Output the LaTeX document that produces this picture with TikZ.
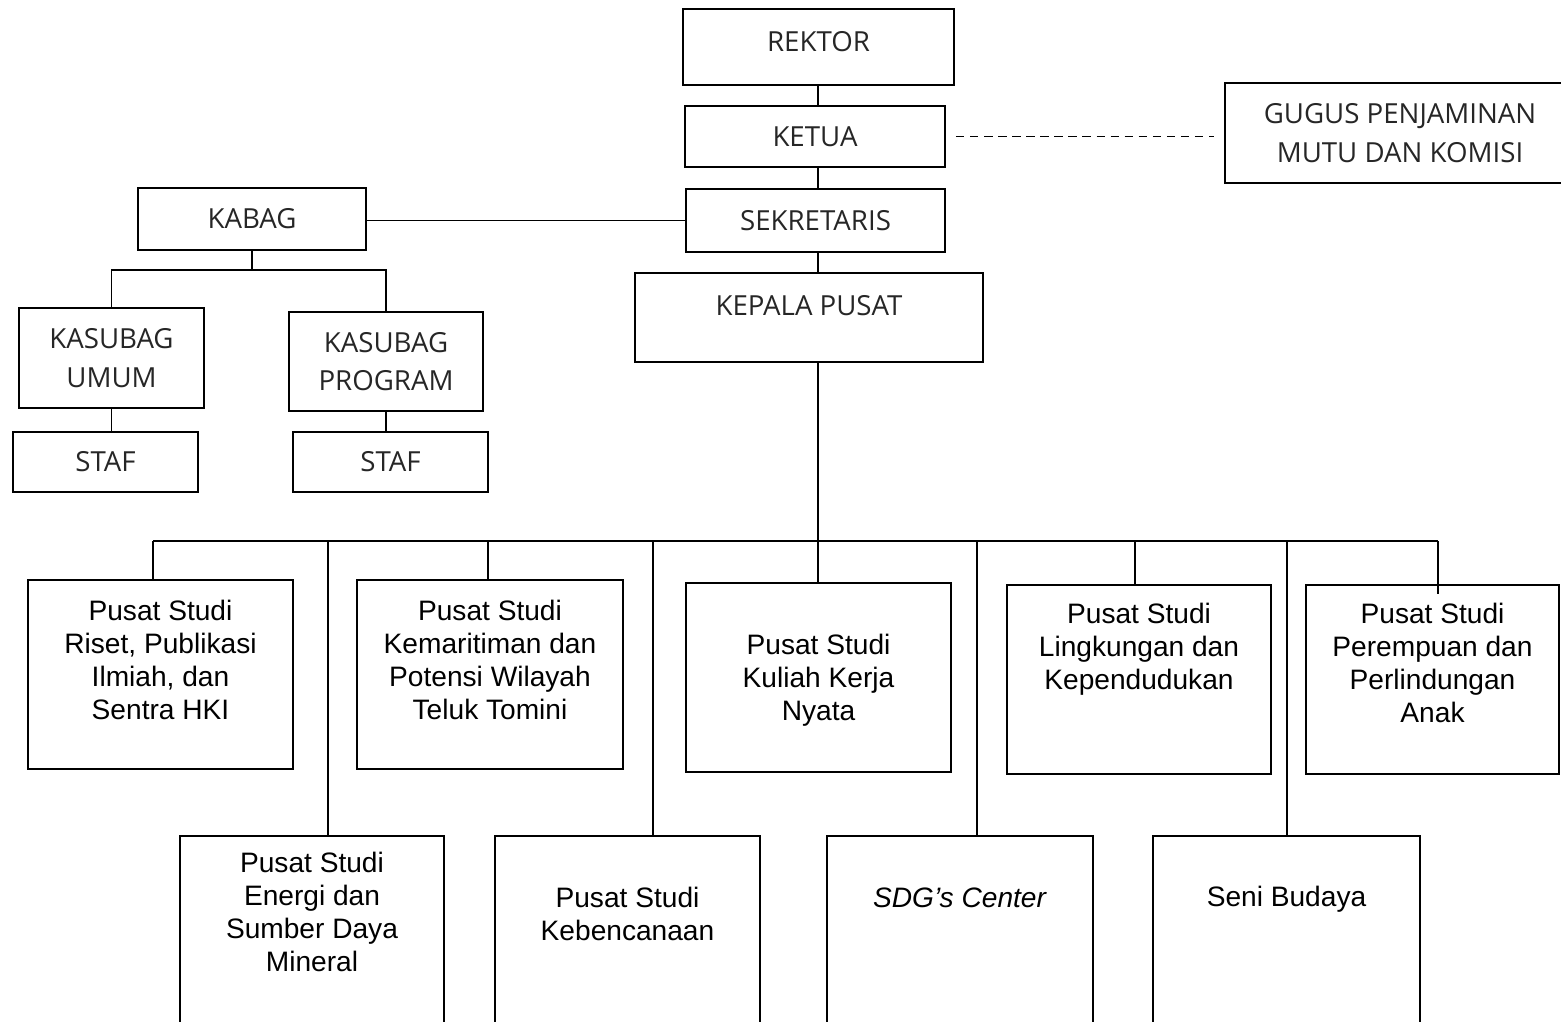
\documentclass[tikz,border=0pt]{standalone}
\usepackage{fontspec}
\setmainfont{Liberation Sans}
\newfontfamily\capsfont{Open Sans}
\usepackage{tikz}
\usetikzlibrary{positioning}

\tikzset{
  unitbox/.style={draw, line width=0.8pt, inner sep=0pt},
  capstext/.style={font=\capsfont\fontsize{11.8}{16.4}\selectfont, text=black!85, align=center, inner sep=0pt},
  pusatbox/.style={unitbox, minimum width=39.75mm, minimum height=28.35mm},
  lowbox/.style={unitbox, minimum width=39.75mm, minimum height=31.35mm},
  pusattext/.style={font=\fontsize{12}{14}\selectfont, align=center, inner sep=0pt},
  link/.style={line width=0.8pt}
}

\begin{document}
\begin{tikzpicture}[x=0.15mm, y=-0.15mm]
  \useasboundingbox (0,0) rectangle (1561,1021);
  \clip (0,0) rectangle (1561,1021);

  % pimpinan
  \node[unitbox, line width=1.2pt, minimum width=40.65mm, minimum height=11.4mm] (rektor) at (818.5,47) {};
  \node[capstext, below=3.45mm of rektor.north] (rektortext) {REKTOR};
  \node[unitbox, capstext, minimum width=39mm, minimum height=9.15mm] (ketua) at (815,136.5) {KETUA};
  \node[unitbox, capstext, minimum width=38.85mm, minimum height=9.45mm] (sekretaris) at (815.5,220.5) {SEKRETARIS};
  \node[unitbox, capstext, minimum width=52.5mm, minimum height=15mm] (gugus) at (1400,133) {GUGUS PENJAMINAN\\MUTU DAN KOMISI};
  \node[unitbox, minimum width=52.2mm, minimum height=13.35mm] (kepala) at (809,317.5) {};
  \node[capstext, below=3.45mm of kepala.north] (kepalatext) {KEPALA PUSAT};

  % bagian
  \node[unitbox, capstext, minimum width=34.2mm, minimum height=9.3mm] (kabag) at (252,219) {KABAG};
  \node[unitbox, capstext, minimum width=27.75mm, minimum height=15mm] (umum) at (111.5,358) {KASUBAG\\UMUM};
  \node[unitbox, capstext, minimum width=29.1mm, minimum height=14.85mm] (program) at (386,361.5) {KASUBAG\\PROGRAM};
  \node[unitbox, capstext, minimum width=27.75mm, minimum height=9mm] (stafumum) at (105.5,462) {STAF};
  \node[unitbox, capstext, minimum width=29.25mm, minimum height=9mm] (stafprogram) at (390.5,462) {STAF};

  % pusat studi, baris atas
  \node[pusatbox] (riset) at (160.5,674.5) {};
  \node[pusattext, below=3.15mm of riset.north] (risettext) {Pusat Studi\\Riset, Publikasi\\Ilmiah, dan\\Sentra HKI};
  \node[pusatbox, minimum width=39.9mm] (maritim) at (490,674.5) {};
  \node[pusattext, below=3.15mm of maritim.north] (maritimtext) {Pusat Studi\\Kemaritiman dan\\Potensi Wilayah\\Teluk Tomini};
  \node[pusatbox] (kkn) at (818.5,677.5) {};
  \node[pusattext, below=7.8mm of kkn.north] (kkntext) {Pusat Studi\\Kuliah Kerja\\Nyata};
  \node[pusatbox, minimum width=39.6mm] (lingkungan) at (1139,679.5) {};
  \node[pusattext, below=2.85mm of lingkungan.north] (lingkungantext) {Pusat Studi\\Lingkungan dan\\Kependudukan};
  \node[pusatbox, minimum width=37.95mm] (perempuan) at (1432.5,679.5) {};
  \node[pusattext, below=2.85mm of perempuan.north] (perempuantext) {Pusat Studi\\Perempuan dan\\Perlindungan\\Anak};

  % pusat studi, baris bawah
  \node[lowbox, minimum width=39.6mm] (energi) at (312,940.5) {};
  \node[pusattext, below=2.55mm of energi.north] (energitext) {Pusat Studi\\Energi dan\\Sumber Daya\\Mineral};
  \node[lowbox] (bencana) at (627.5,940.5) {};
  \node[pusattext, below=7.8mm of bencana.north] (bencanatext) {Pusat Studi\\Kebencanaan};
  \node[lowbox, minimum width=39.9mm] (sdg) at (960,940.5) {};
  \node[pusattext, below=7.8mm of sdg.north] (sdgtext) {\textit{SDG’s Center}};
  \node[lowbox, minimum width=40.05mm] (seni) at (1286.5,940.5) {};
  \node[pusattext, below=7.65mm of seni.north] (senitext) {Seni Budaya};

  % garis
  \foreach \n/\x in {b1/153, b2/328, b3/488, b4/653, b5/818, b6/977, b7/1135, b8/1287, b9/1438}
    \coordinate (\n) at (\x,541);
  \coordinate (kfork) at (252,270);

  \draw[link] (rektor.south -| b5) -- (ketua.north -| b5);
  \draw[link] (ketua.south -| b5) -- (sekretaris.north -| b5);
  \draw[link] (sekretaris.south -| b5) -- (kepala.north -| b5);
  \draw[link] (kepala.south -| b5) -- (b5);
  \draw[link, dash pattern=on 3.6pt off 2.4pt, shorten <=1.5mm, shorten >=1.5mm] (ketua.east) -- (ketua.east -| gugus.west);
  \draw[link] (sekretaris.west) -- (sekretaris.west -| kabag.east);
  \draw[link] (kabag.south) -- (kfork);
  \draw[link] (umum.north) |- (kfork) -| (program.north);
  \draw[link] (umum.south) -- (umum.south |- stafumum.north);
  \draw[link] (program.south) -- (program.south |- stafprogram.north);

  \draw[link] (b1) -- (b9);
  \foreach \p/\q in {b1/riset, b2/energi, b3/maritim, b4/bencana, b5/kkn, b6/sdg, b7/lingkungan, b8/seni}
    \draw[link] (\p) -- (\p |- \q.north);
  \draw[link] (b9) -- ++(0,53);
\end{tikzpicture}
\end{document}
